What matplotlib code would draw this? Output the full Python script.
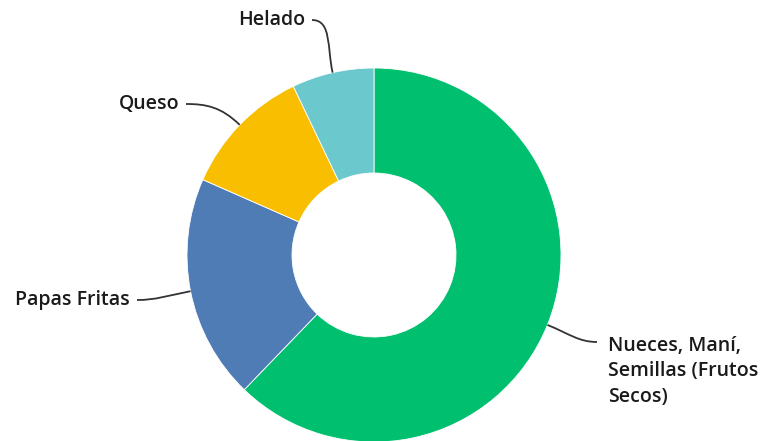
import numpy as np
import matplotlib.pyplot as plt
from matplotlib.path import Path
from matplotlib.patches import PathPatch

# consumo de snacks
categorias = ['Nueces, Maní,\nSemillas (Frutos\nSecos)', 'Papas Fritas', 'Queso', 'Helado']
valores = [62.2, 19.4, 11.3, 7.1]
colores = ['#00BF6F', '#507CB6', '#F9BE00', '#6BC8CD']

W, H = 769, 441
fig = plt.figure(figsize=(W / 100, H / 100), dpi=100)
ax = fig.add_axes([0, 0, 1, 1])

cx, cy, R = 374, H - 255, 187
wedges, _ = ax.pie(valores, colors=colores, startangle=90, counterclock=False,
                   center=(cx, cy), radius=R,
                   wedgeprops=dict(width=R - 82, linewidth=0.6, edgecolor='white'))

ax.set_xlim(0, W)
ax.set_ylim(0, H)
ax.set_aspect('equal')
ax.axis('off')

# puntos donde terminan las etiquetas (x, y desde arriba) y alineacion
destinos = [(597, 342, 'left'), (137, 300, 'right'), (186, 104, 'right'), (312, 20, 'right')]

for w, nombre, (tx, ty, ha) in zip(wedges, categorias, destinos):
    ang = np.deg2rad((w.theta1 + w.theta2) / 2)
    ux, uy = np.cos(ang), np.sin(ang)
    x0, y0 = cx + R * ux, cy + R * uy
    ty = H - ty
    d = np.hypot(tx - x0, ty - y0)
    sgn = 1 if ha == 'left' else -1
    pts = [(x0, y0), (x0 + ux * d * 0.45, y0 + uy * d * 0.45),
           (tx - sgn * d * 0.35, ty), (tx, ty)]
    path = Path(pts, [Path.MOVETO, Path.CURVE4, Path.CURVE4, Path.CURVE4])
    ax.add_patch(PathPatch(path, fill=False, edgecolor='#333333', lw=1.3))
    if '\n' in nombre:
        ax.text(tx + 11, ty + 6, nombre, ha='left', va='top', fontsize=14,
                fontfamily='Open Sans', fontweight='semibold', color='#1a1a1a',
                linespacing=1.36)
    else:
        ax.text(tx + sgn * 7, ty, nombre, ha=ha, va='center', fontsize=14,
                fontfamily='Open Sans', fontweight='semibold', color='#1a1a1a')

fig.savefig('out.png', dpi=100)
